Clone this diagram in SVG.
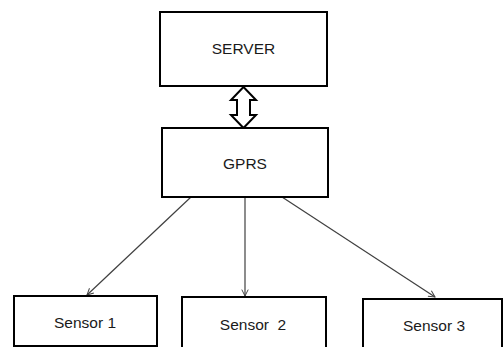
<svg xmlns="http://www.w3.org/2000/svg" width="503" height="347" viewBox="0 0 503 347">
<style>
.box{fill:#fff;stroke:#000;stroke-width:2}
.lbl{font-family:"Liberation Sans",Arial,sans-serif;font-size:15.5px;fill:#1a1a1a;text-anchor:middle}
.conn{stroke:#404040;stroke-width:1.2;fill:none}
</style>
<defs>
<marker id="ah" viewBox="0 0 10 10" refX="9" refY="5" markerWidth="8" markerHeight="8" markerUnits="userSpaceOnUse" orient="auto">
<path d="M1,1 L9,5 L1,9" fill="none" stroke="#404040" stroke-width="1.2"/>
</marker>
</defs>
<rect width="503" height="347" fill="#fff"/>
<g id="connectors">
<path class="conn" d="M191,197 L87,295" marker-end="url(#ah)"/>
<path class="conn" d="M245,197 L245,296" marker-end="url(#ah)"/>
<path class="conn" d="M282,197 L435,297" marker-end="url(#ah)"/>
<path d="M243.5,87 L256,100 L250,100 L250,115 L256,115 L243.5,128 L231,115 L237,115 L237,100 L231,100 Z" fill="#fff" stroke="#000" stroke-width="2" stroke-linejoin="miter"/>
</g>
<g id="server">
<rect class="box" x="160" y="12" width="167" height="74"/>
<text class="lbl" x="243.5" y="54">SERVER</text>
</g>
<g id="gprs">
<rect class="box" x="162" y="128" width="166" height="69"/>
<text class="lbl" x="245" y="169">GPRS</text>
</g>
<g id="sensor1">
<rect class="box" x="14" y="296" width="143" height="50"/>
<text class="lbl" x="85" y="328">Sensor 1</text>
</g>
<g id="sensor2">
<rect class="box" x="182" y="297" width="144" height="52"/>
<text class="lbl" x="253" y="330" xml:space="preserve">Sensor  2</text>
</g>
<g id="sensor3">
<rect class="box" x="363" y="299" width="139" height="50"/>
<text class="lbl" x="434" y="331">Sensor 3</text>
</g>
</svg>
